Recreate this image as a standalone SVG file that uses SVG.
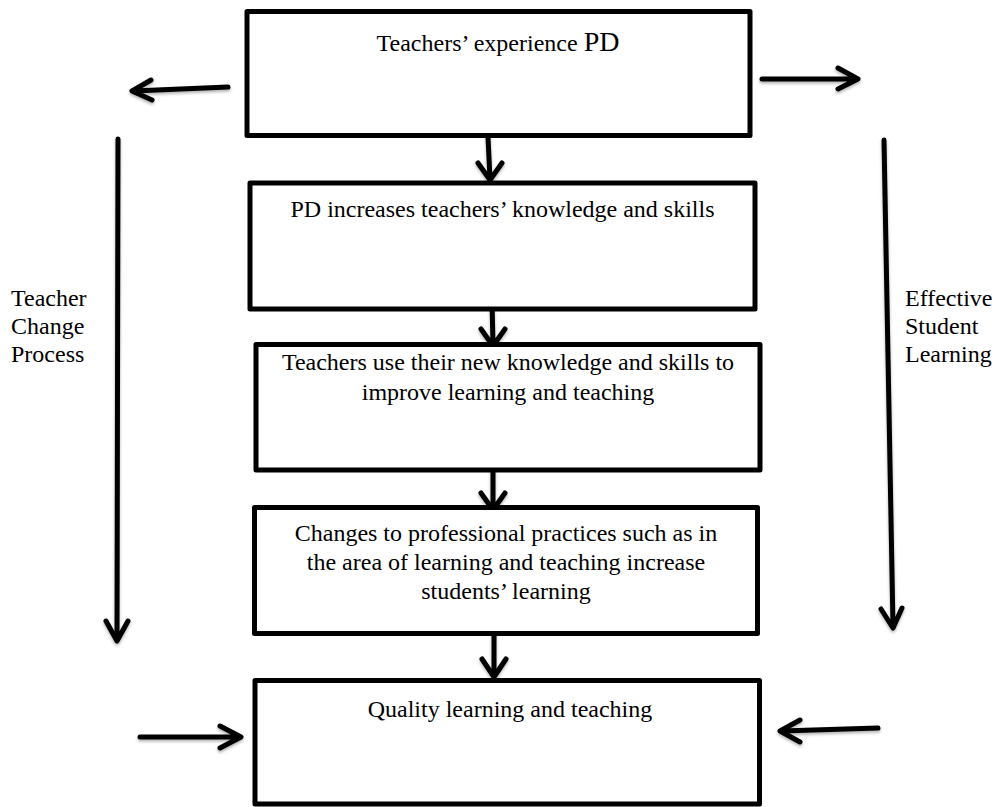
<svg xmlns="http://www.w3.org/2000/svg" width="996" height="807" viewBox="0 0 996 807">
<style>
.box{fill:#fff;stroke:#000;stroke-width:5;stroke-linejoin:round}
.t{font-family:"Liberation Serif","Times New Roman",serif;font-size:24px;fill:#000}
.c{text-anchor:middle}
.ln{fill:none;stroke:#000;stroke-width:5;stroke-linecap:round;stroke-linejoin:round}
</style>
<defs>
<filter id="sh" x="-20%" y="-20%" width="140%" height="140%">
<feDropShadow dx="0" dy="2" stdDeviation="1.5" flood-color="#000" flood-opacity="0.3"/>
</filter>
</defs>
<rect width="996" height="807" fill="#fff"/>
<g id="connectors" filter="url(#sh)">
<path class="ln" d="M488,137 L490,179 M478,163 L490,180 L502,163"/>
<path class="ln" d="M492,300 L493,345 M481,329 L493,346 L505,329"/>
<path class="ln" d="M493,463 L493,509 M481,493 L493,510 L505,493"/>
<path class="ln" d="M494,630 L494,676 M482,659 L494,677 L506,659"/>
<path class="ln" d="M228,87 L133,91 M151,80 L132,91 L152,100"/>
<path class="ln" d="M762,79 L857,79 M838,68 L858,79 L838,89"/>
<path class="ln" d="M118,139 L117,640 M106,621 L117,641 L128,621"/>
<path class="ln" d="M884,140 L893,627 M881,609 L893,628 L902,608"/>
<path class="ln" d="M140,737 L240,737 M220,726 L241,737 L220,748"/>
<path class="ln" d="M878,728 L781,731 M800,720 L780,731 L800,742"/>
</g>
<g id="n1">
<rect class="box" x="247" y="11.5" width="503" height="124"/>
<text class="t c" x="498" y="51">Teachers’ experience <tspan font-size="28">PD</tspan></text>
</g>
<g id="n2">
<rect class="box" x="250" y="183" width="505" height="126"/>
<text class="t c" x="502.5" y="217">PD increases teachers’ knowledge and skills</text>
</g>
<g id="n3">
<rect class="box" x="256" y="344.5" width="504" height="125.5"/>
<text class="t c" x="508" y="370">Teachers use their new knowledge and skills to</text>
<text class="t c" x="508" y="400">improve learning and teaching</text>
</g>
<g id="n4">
<rect class="box" x="254.5" y="507.5" width="503" height="126"/>
<text class="t c" x="506" y="541">Changes to professional practices such as in</text>
<text class="t c" x="506" y="570">the area of learning and teaching increase</text>
<text class="t c" x="506" y="599">students’ learning</text>
</g>
<g id="n5">
<rect class="box" x="255" y="680.5" width="504.5" height="123.5"/>
<text class="t c" x="510" y="717">Quality learning and teaching</text>
</g>
<g id="lblLeft">
<text class="t" x="11" y="306">Teacher</text>
<text class="t" x="11" y="334">Change</text>
<text class="t" x="11" y="362">Process</text>
</g>
<g id="lblRight">
<text class="t" x="905" y="306">Effective</text>
<text class="t" x="905" y="334">Student</text>
<text class="t" x="905" y="362">Learning</text>
</g>
</svg>
